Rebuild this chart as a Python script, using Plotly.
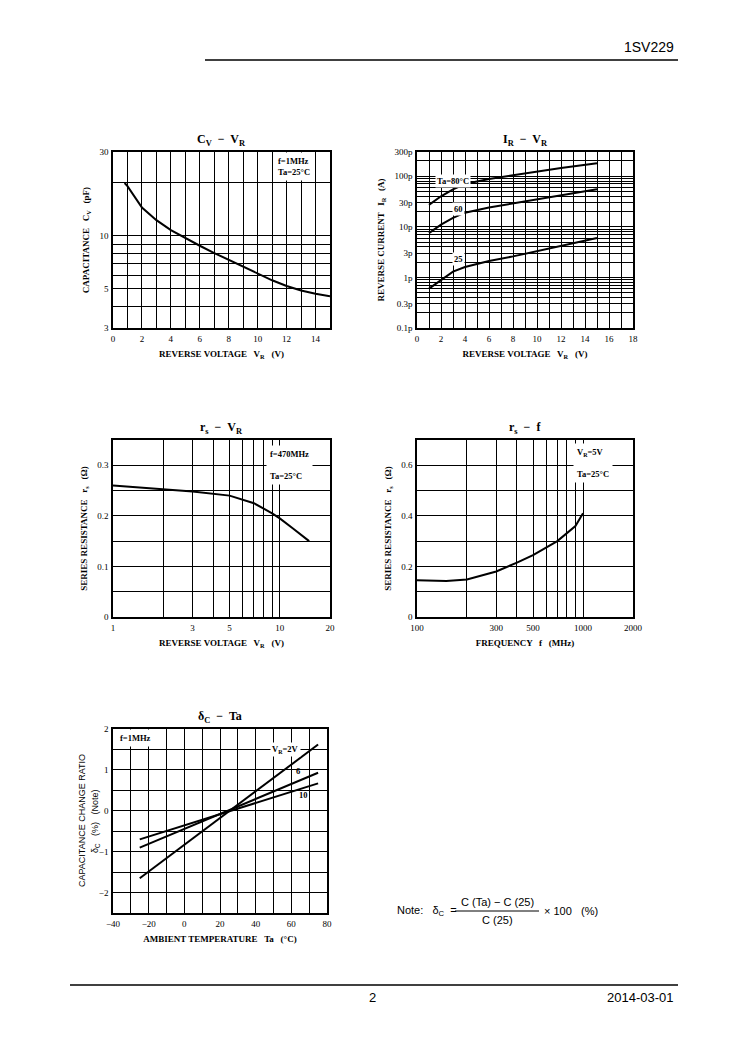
import plotly.graph_objects as go
import math

# ---- data ----
cv_vr = [0.8, 1, 2, 3, 4, 5, 6, 7, 8, 9, 10, 11, 12, 13, 14, 15]
cv_c = [20, 19.2, 14.5, 12.3, 10.8, 9.7, 8.8, 8.0, 7.3, 6.7, 6.1, 5.6, 5.2, 4.9, 4.7, 4.55]

ir_vr = [1, 2, 3, 4, 6, 8, 10, 12, 15]
ir_80 = [27, 40, 55, 70, 88, 105, 125, 145, 180]
ir_60 = [7.5, 11, 15, 19, 24, 29, 35, 42, 55]
ir_25 = [0.6, 0.9, 1.3, 1.6, 2.1, 2.6, 3.3, 4.2, 6.0]

rs_vr = [1, 2, 3, 5, 7, 9, 10, 12, 15]
rs_vr_val = [0.26, 0.253, 0.248, 0.24, 0.225, 0.205, 0.195, 0.175, 0.15]

rs_f = [100, 150, 200, 300, 400, 500, 700, 900, 1000]
rs_f_val = [0.145, 0.142, 0.148, 0.18, 0.215, 0.245, 0.30, 0.36, 0.41]

dc_ta = [-25, 75]
dc_2 = [-1.65, 1.62]
dc_6 = [-0.9, 0.93]
dc_10 = [-0.7, 0.67]

W, H = 744, 1053
SER = "Liberation Serif"
SANS = "Liberation Sans"
OFF = 8  # page body margin

def px(x): return (x - OFF) / W
def py(y): return 1 - (y - OFF) / H

fig = go.Figure()
line = dict(color="black", width=2)

fig.add_trace(go.Scatter(x=cv_vr, y=cv_c, mode="lines", line=line, xaxis="x", yaxis="y"))
for s in (ir_80, ir_60, ir_25):
    fig.add_trace(go.Scatter(x=ir_vr, y=s, mode="lines", line=line, xaxis="x2", yaxis="y2"))
fig.add_trace(go.Scatter(x=rs_vr, y=rs_vr_val, mode="lines", line=line, xaxis="x3", yaxis="y3"))
fig.add_trace(go.Scatter(x=rs_f, y=rs_f_val, mode="lines", line=line, xaxis="x4", yaxis="y4"))
for s in (dc_2, dc_6, dc_10):
    fig.add_trace(go.Scatter(x=dc_ta, y=s, mode="lines", line=line, xaxis="x5", yaxis="y5"))

tf = dict(family=SER, size=9, color="black")
def ax(dom, anchor, tickvals, ticktext, rng, typ="linear", title=None):
    d = dict(domain=dom, anchor=anchor, tickvals=tickvals, ticktext=ticktext, range=rng, type=typ,
             showgrid=True, gridcolor="black", gridwidth=1, showline=True, linecolor="black",
             linewidth=1.5, mirror=True, ticks="", tickfont=tf, zeroline=False, automargin=False,
             ticklabelstandoff=1)
    if title:
        d["title"] = dict(text=title, font=dict(family=SER, size=9, color="black"), standoff=8)
    return d

xv = list(range(0, 16))
x1 = ax([px(113), px(330)], "y", xv, [str(v) if v % 2 == 0 else "" for v in xv], [0, 15],
        title="<b>REVERSE VOLTAGE   V<sub>R</sub>   (V)</b>")
yv1 = [3, 4, 5, 6, 7, 8, 9, 10, 20, 30]
y1 = ax([py(328), py(152)], "x", yv1, [{3: "3", 5: "5", 10: "10", 30: "30"}.get(v, "") for v in yv1],
        [math.log10(3), math.log10(30)], "log", title="<b>CAPACITANCE   C<sub>V</sub>   (pF)</b>")
xv2 = list(range(0, 19))
x2 = ax([px(417), px(633)], "y2", xv2, [str(v) if v % 2 == 0 else "" for v in xv2], [0, 18],
        title="<b>REVERSE VOLTAGE   V<sub>R</sub>   (V)</b>")
yv2 = []
for dec in (0.1, 1, 10, 100):
    for m in range(1, 10):
        v = round(dec * m, 3)
        if v <= 300:
            yv2.append(v)
lab2 = {0.1: "0.1p", 0.3: "0.3p", 1: "1p", 3: "3p", 10: "10p", 30: "30p", 100: "100p", 300: "300p"}
y2 = ax([py(328), py(152)], "x2", yv2, [lab2.get(v, "") for v in yv2], [-1, math.log10(300)], "log",
        title="<b>REVERSE CURRENT   I<sub>R</sub>   (A)</b>")
xv3 = [1, 2, 3, 4, 5, 6, 7, 8, 9, 10, 20]
x3 = ax([px(113), px(330)], "y3", xv3, [{1: "1", 3: "3", 5: "5", 10: "10", 20: "20"}.get(v, "") for v in xv3],
        [0, math.log10(20)], "log", title="<b>REVERSE VOLTAGE   V<sub>R</sub>   (V)</b>")
yv3 = [0, 0.05, 0.1, 0.15, 0.2, 0.25, 0.3, 0.35]
y3 = ax([py(617), py(440)], "x3", yv3, [{0: "0", 0.1: "0.1", 0.2: "0.2", 0.3: "0.3"}.get(v, "") for v in yv3],
        [0, 0.35], title="<b>SERIES RESISTANCE   r<sub>s</sub>   (Ω)</b>")
xv4 = [100, 200, 300, 400, 500, 600, 700, 800, 900, 1000, 2000]
x4 = ax([px(417), px(633)], "y4", xv4,
        [{100: "100", 300: "300", 500: "500", 1000: "1000", 2000: "2000"}.get(v, "") for v in xv4],
        [2, math.log10(2000)], "log", title="<b>FREQUENCY   f   (MHz)</b>")
yv4 = [0, 0.1, 0.2, 0.3, 0.4, 0.5, 0.6, 0.7]
y4 = ax([py(617), py(440)], "x4", yv4, [{0: "0", 0.2: "0.2", 0.4: "0.4", 0.6: "0.6"}.get(v, "") for v in yv4],
        [0, 0.7], title="<b>SERIES RESISTANCE   r<sub>s</sub>   (Ω)</b>")
xv5 = list(range(-40, 81, 10))
x5 = ax([px(113), px(327)], "y5", xv5, [("−" + str(-v) if v < 0 else str(v)) if v % 20 == 0 else "" for v in xv5],
        [-40, 80], title="<b>AMBIENT TEMPERATURE   Ta   (°C)</b>")
yv5 = [-2.5, -2, -1.5, -1, -0.5, 0, 0.5, 1, 1.5, 2]
y5 = ax([py(913), py(729)], "x5", yv5,
        [{-2: "−2", -1: "−1", 0: "0", 1: "1", 2: "2"}.get(v, "") for v in yv5], [-2.5, 2])

fig.update_layout(width=W, height=H, margin=dict(l=0, r=0, t=0, b=0, autoexpand=False), showlegend=False,
                  plot_bgcolor="white", paper_bgcolor="white",
                  xaxis=x1, yaxis=y1, xaxis2=x2, yaxis2=y2, xaxis3=x3, yaxis3=y3,
                  xaxis4=x4, yaxis4=y4, xaxis5=x5, yaxis5=y5)

ann = []
def A(x, y, text, size=11, fam=SER, xanchor="center", xref="paper", yref="paper", bg=None, **kw):
    d = dict(x=x, y=y, text=text, showarrow=False, xref=xref, yref=yref, xanchor=xanchor, yanchor="middle",
             font=dict(family=fam, size=size, color="black"))
    if bg: d["bgcolor"] = bg
    d.update(kw)
    ann.append(d)

A(px(221), py(140), "<b>C<sub>V</sub>  −  V<sub>R</sub></b>", 12)
A(px(525), py(140), "<b>I<sub>R</sub>  −  V<sub>R</sub></b>", 12)
A(px(221), py(428), "<b>r<sub>s</sub>  −  V<sub>R</sub></b>", 12)
A(px(525), py(428), "<b>r<sub>s</sub>  −  f</b>", 12)
A(px(220), py(717), "<b>δ<sub>C</sub>  −  Ta</b>", 12)

A(px(274), py(166), "<b>f=1MHz<br>Ta=25°C</b>", 8.5, xanchor="left", align="left", bg="white",
  borderpad=3)
A(px(573), py(463), "<b>V<sub>R</sub>=5V<br><br>Ta=25°C</b>", 8.5, xanchor="left", align="left", bg="white",
  borderpad=3)
A(px(266), py(465), "<b>f=470MHz<br><br>Ta=25°C</b>", 8.5, xanchor="left", align="left", bg="white",
  borderpad=3)
A(px(116), py(738), "<b>f=1MHz</b>", 8.5, xanchor="left", bg="white", borderpad=3)

A(3, math.log10(80), "<b>Ta=80°C</b>", 8.5, xref="x2", yref="y2", bg="white")
A(3.5, math.log10(22), "<b>60</b>", 8.5, xref="x2", yref="y2", bg="white")
A(3.5, math.log10(2.3), "<b>25</b>", 8.5, xref="x2", yref="y2", bg="white")
A(57, 1.5, "<b>V<sub>R</sub>=2V</b>", 8.5, xref="x5", yref="y5", bg="white")
A(64, 0.98, "<b>6</b>", 8.5, xref="x5", yref="y5")
A(67, 0.38, "<b>10</b>", 8.5, xref="x5", yref="y5")

A(px(82), py(821), "CAPACITANCE CHANGE RATIO", 9, SANS, textangle=-90)
A(px(95), py(821), "δ<sub>C</sub>   (%)   (Note)", 9, SANS, textangle=-90)

A(px(676), py(47), "1SV229", 14, SANS, xanchor="right")
A(px(372), py(997), "2", 13, SANS)
A(px(676), py(997), "2014-03-01", 13, SANS, xanchor="right")

A(px(395), py(911), "Note:   δ<sub>C</sub>  =", 11, SANS, xanchor="left")
A(px(497), py(902), "C (Ta) − C (25)", 11, SANS)
A(px(497), py(920), "C (25)", 11, SANS)
A(px(542), py(911), "× 100   (%)", 11, SANS, xanchor="left")

fig.update_layout(annotations=ann, shapes=[
    dict(type="line", xref="paper", yref="paper", x0=px(205), x1=px(678), y0=py(60), y1=py(60),
         line=dict(color="black", width=1.5)),
    dict(type="line", xref="paper", yref="paper", x0=px(70), x1=px(678), y0=py(985), y1=py(985),
         line=dict(color="black", width=1.5)),
    dict(type="line", xref="paper", yref="paper", x0=px(455), x1=px(539), y0=py(911), y1=py(911),
         line=dict(color="black", width=1)),
])

fig.write_html("out.html")
